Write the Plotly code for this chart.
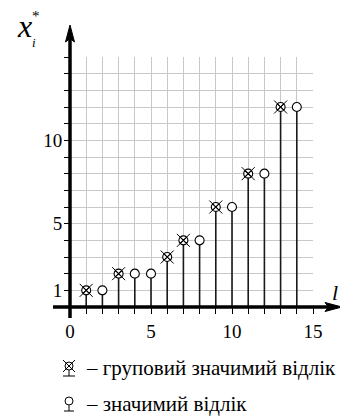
import plotly.graph_objects as go

# ---- data ----
group_x = [1, 3, 6, 7, 9, 11, 13]
group_y = [1, 2, 3, 4, 6, 8, 12]
sig_x = [2, 4, 5, 8, 10, 12, 14]
sig_y = [1, 2, 2, 4, 6, 8, 12]
x_tick_vals = list(range(0, 16))
x_tick_text = ["0" if v == 0 else (str(v) if v % 5 == 0 else "") for v in x_tick_vals]
y_tick_vals = list(range(1, 16))
y_tick_text = [str(v) if v in (1, 5, 10) else "" for v in y_tick_vals]
legend_texts = ["– груповий значимий відлік", "– значимий відлік"]

W, H = 340, 419
L, R, T, B = 70, 27, 57, 112
PW, PH = W - L - R, H - T - B
FONT = "Liberation Serif"


def px(x):
    return (x - L) / PW


def py(y):
    return (H - B - y) / PH


fig = go.Figure()


def stems(xs, ys):
    sx, sy = [], []
    for x, y in zip(xs, ys):
        sx += [x, x, None]
        sy += [0, y, None]
    return sx, sy


all_x = group_x + sig_x
all_y = group_y + sig_y
sx, sy = stems(all_x, all_y)
fig.add_trace(go.Scatter(x=sx, y=sy, mode="lines", line=dict(color="#1a1a1a", width=1.6),
                         hoverinfo="skip", showlegend=False, cliponaxis=False))

fig.add_trace(go.Scatter(x=sig_x, y=sig_y, mode="markers", showlegend=False, cliponaxis=False,
                         marker=dict(symbol="circle", size=9, color="white",
                                     line=dict(color="black", width=1.1))))
fig.add_trace(go.Scatter(x=group_x, y=group_y, mode="markers", showlegend=False, cliponaxis=False,
                         marker=dict(symbol="circle-x", size=9, color="white",
                                     line=dict(color="black", width=1.1))))
fig.add_trace(go.Scatter(x=group_x, y=group_y, mode="markers", showlegend=False, cliponaxis=False,
                         marker=dict(symbol="x-thin-open", size=13, color="black",
                                     line=dict(color="black", width=1.0))))

shapes = []
shapes.append(dict(type="line", xref="paper", yref="paper", x0=px(70), x1=px(70), y0=py(318), y1=py(36),
                   line=dict(color="black", width=3.5)))
shapes.append(dict(type="path", xref="paper", yref="paper",
                   path=f"M {px(70)},{py(25)} L {px(65.5)},{py(42)} L {px(70)},{py(38.5)} L {px(74.5)},{py(42)} Z",
                   fillcolor="black", line=dict(color="black", width=1)))
shapes.append(dict(type="line", xref="paper", yref="paper", x0=px(53), x1=px(332), y0=py(307), y1=py(307),
                   line=dict(color="black", width=3.5)))
shapes.append(dict(type="path", xref="paper", yref="paper",
                   path=f"M {px(342)},{py(307)} L {px(325)},{py(302.5)} L {px(328.5)},{py(307)} L {px(325)},{py(311.5)} Z",
                   fillcolor="black", line=dict(color="black", width=1)))

cx, cy, r = 69, 366, 4
shapes.append(dict(type="circle", xref="paper", yref="paper", x0=px(cx - r), x1=px(cx + r),
                   y0=py(cy + r), y1=py(cy - r), line=dict(color="black", width=1)))
for (a, b, c, d) in [(cx - 6, cy - 6, cx + 6, cy + 6), (cx + 6, cy - 6, cx - 6, cy + 6),
                     (cx, cy + r, cx, cy + 10), (cx - 6, cy + 10, cx + 6, cy + 10)]:
    shapes.append(dict(type="line", xref="paper", yref="paper", x0=px(a), y0=py(b), x1=px(c), y1=py(d),
                       line=dict(color="black", width=1)))
cx, cy = 69, 401
shapes.append(dict(type="circle", xref="paper", yref="paper", x0=px(cx - r), x1=px(cx + r),
                   y0=py(cy + r), y1=py(cy - r), line=dict(color="black", width=1)))
for (a, b, c, d) in [(cx, cy + r, cx, cy + 10), (cx - 5, cy + 10, cx + 5, cy + 10)]:
    shapes.append(dict(type="line", xref="paper", yref="paper", x0=px(a), y0=py(b), x1=px(c), y1=py(d),
                       line=dict(color="black", width=1)))

annotations = []


def ann(text, x, y, size, xanchor="center", italic=False):
    annotations.append(dict(text=f"<i>{text}</i>" if italic else text, xref="paper", yref="paper",
                            x=px(x), y=py(y), xanchor=xanchor, yanchor="middle", showarrow=False,
                            font=dict(family=FONT, size=size, color="black")))


ann("x", 24, 26, 32, italic=True)
ann("*", 36, 16, 15)
ann("i", 34, 43, 13, italic=True)
ann("l", 335, 292, 22, italic=True)
ann(legend_texts[0], 84, 368, 21, xanchor="left")
ann(legend_texts[1], 84, 404, 21, xanchor="left")

fig.update_layout(
    width=W, height=H, margin=dict(l=L, r=R, t=T, b=B),
    paper_bgcolor="white", plot_bgcolor="white",
    shapes=shapes, annotations=annotations,
    font=dict(family=FONT, size=19, color="black"),
    xaxis=dict(range=[0, 15], tickvals=x_tick_vals, ticktext=x_tick_text, showgrid=True,
               gridcolor="#c8c8c8", gridwidth=1, zeroline=False, showline=False,
               ticks="outside", ticklen=6, tickwidth=1.3, tickcolor="black",
               tickfont=dict(family=FONT, size=19, color="black"),
               ticklabelstandoff=1, fixedrange=True),
    yaxis=dict(range=[0, 15], tickvals=y_tick_vals, ticktext=y_tick_text, showgrid=True,
               gridcolor="#c8c8c8", gridwidth=1, zeroline=False, showline=False,
               ticks="outside", ticklen=5, tickwidth=1.3, tickcolor="black",
               tickfont=dict(family=FONT, size=19, color="black"),
               ticklabelstandoff=-2, fixedrange=True),
)

fig.write_html("out.html", config={"displayModeBar": False},
               post_script="document.body.style.margin='0';document.body.style.padding='0';")
